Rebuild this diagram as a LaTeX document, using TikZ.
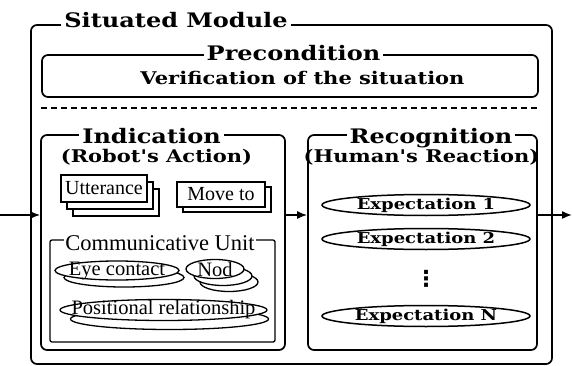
\documentclass[tikz,border=0pt]{standalone}
\usepackage{fontspec}
\setmainfont{Liberation Serif}
\newfontfamily\titrefont{DejaVu Serif}[FakeStretch=1.2]
\newfontfamily\symbfont{DejaVu Sans}
\usetikzlibrary{arrows.meta,shapes.geometric,positioning}

\tikzset{
  cadre/.style   = {draw, line width=1.7pt, rounded corners=6pt, inner sep=0pt},
  titre/.style   = {fill=white, inner xsep=3pt, inner ysep=1pt, anchor=base,
                    font=\titrefont\bfseries\fontsize{20}{22}\selectfont},
  soustitre/.style = {titre, fill=none, font=\titrefont\bfseries\fontsize{17.5}{20}\selectfont},
  feuille/.style = {draw, fill=white, line width=1.3pt, inner sep=0pt,
                    font=\fontsize{20}{22}\selectfont},
  bulle/.style   = {ellipse, draw, fill=white, line width=1.3pt,
                    inner xsep=-30pt, inner ysep=-4pt,
                    font=\fontsize{20.5}{22}\selectfont},
  attente/.style = {ellipse, draw, line width=1.5pt, inner xsep=-30pt, inner ysep=-4pt,
                    minimum width=208pt, minimum height=21pt,
                    font=\titrefont\bfseries\fontsize{15}{17}\selectfont},
}

\begin{document}
\begin{tikzpicture}[x=1pt, y=-1pt, >={Latex[length=10pt,width=8pt]}, line width=1.6pt]
\useasboundingbox (0,0) rectangle (572,366);

% les cadres
\node[cadre, minimum width=521pt, minimum height=339pt] (sit) at (291.5,194.5) {};
\node[cadre, minimum width=496pt, minimum height=42pt]  (pre) at (290,76) {};
\node[cadre, minimum width=244pt, minimum height=215pt] (ind) at (163,242.5) {};
\node[cadre, minimum width=229pt, minimum height=215pt] (rec) at (422.5,242.5) {};
\node[draw, line width=1.3pt, rounded corners=2pt, minimum width=225pt, minimum height=102pt]
  (cu) at (162.5,291) {};

% les titres
\node[titre] (sitT) at (176,28) {Situated Module};
\node[titre] (preT) at (293.5,61) {Precondition};
\node[soustitre] (preV) at (302.5,85) {Verification of the situation};
\node[titre] (indT) at (151.5,143) {Indication};
\node[soustitre] (indR) at (156.5,162) {(Robot's Action)};
\node[titre] (recT) at (431,143) {Recognition};
\node[soustitre] (recH) at (421.5,162) {(Human's Reaction)};
\node[titre, font=\fontsize{22.5}{24}\selectfont, inner xsep=1pt] (cuT) at (160,250.5) {Communicative Unit};

% ligne pointillee
\coordinate (tiret) at (0,108);
\draw[dash pattern=on 6pt off 4pt, line width=1.4pt] (tiret -| pre.west) -- (tiret -| pre.east);

% les actions
\node[feuille, minimum width=86pt, minimum height=27pt, xshift=12pt, yshift=-14pt] (utt3) at (104,188.5) {};
\node[feuille, minimum width=86pt, minimum height=27pt, xshift=6pt, yshift=-7pt] (utt2) at (104,188.5) {};
\node[feuille, minimum width=86pt, minimum height=27pt] (utt) at (104,188.5) {Utterance};
\node[feuille, minimum width=88pt, minimum height=25pt, xshift=6pt, yshift=-5pt] (move2) at (221,194.5) {};
\node[feuille, minimum width=88pt, minimum height=25pt] (move) at (221,194.5) {Move to};

% unite communicative
\node[bulle, minimum width=120pt, minimum height=19pt, xshift=7pt, yshift=-7pt] (eye2) at (117,270.5) {};
\node[bulle, minimum width=124pt, minimum height=19pt] (eye) at (117,270.5) {Eye contact};
\node[bulle, minimum width=58pt, minimum height=19pt, xshift=14pt, yshift=-13pt] (nod3) at (215,269) {};
\node[bulle, minimum width=58pt, minimum height=19pt, xshift=8pt, yshift=-7pt] (nod2) at (215,269) {};
\node[bulle, minimum width=58pt, minimum height=19pt] (nod) at (215,269) {Nod};
\node[bulle, minimum width=198pt, minimum height=21pt, xshift=6pt, yshift=-9pt] (pos2) at (163.5,310) {};
\node[bulle, minimum width=207pt, minimum height=21pt] (pos) at (163.5,310) {Positional relationship};

% les attentes
\node[attente] (exp1) at (426,205) {Expectation 1};
\node[attente] (exp2) at (426,239) {Expectation 2};
\node[font=\symbfont\bfseries\fontsize{22}{22}\selectfont, inner sep=0pt] (pts) at (426,279) {⋮};
\node[attente] (expN) at (426,316) {Expectation N};

% les fleches
\coordinate (entree) at (0,215);
\coordinate (sortie) at (572,215);
\draw[->] (entree) -- (entree -| ind.west);
\draw[->] (ind.east |- entree) -- (rec.west |- entree);
\draw[->] (rec.east |- entree) -- (sortie);
\end{tikzpicture}
\end{document}
